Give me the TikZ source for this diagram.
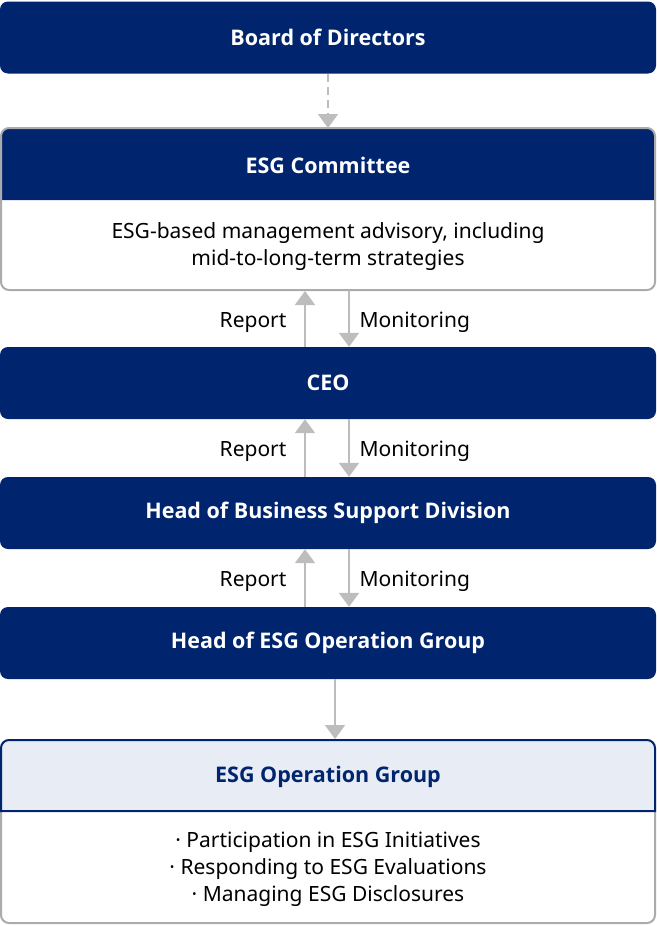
\documentclass[tikz,border=0pt]{standalone}
\usepackage{fontspec}
\setmainfont{Noto Sans}
\newfontfamily\hdfont{Open Sans}
\usetikzlibrary{arrows.meta}
\definecolor{navy}{HTML}{00256E}
\definecolor{arrowgray}{HTML}{BDBDBD}
\definecolor{framegray}{HTML}{ABABAB}
\definecolor{lightblue}{HTML}{E8EDF5}
\begin{document}
\begin{tikzpicture}[x=1pt,y=-1pt,
  hfont/.style={font=\hdfont\bfseries\fontsize{21.5}{24}\selectfont},
  navybox/.style={hfont, fill=navy, rounded corners=8pt, minimum width=656pt, minimum height=72pt, inner sep=0pt, text=white},
  headtext/.style={hfont, text=white},
  bodytext/.style={align=center, font=\fontsize{21}{26.5}\selectfont},
  lbl/.style={font=\fontsize{21}{22}\selectfont},
  conn/.style={draw=arrowgray, line width=2pt, -{Triangle[width=20pt,length=14pt]}}
]
\useasboundingbox (0,0) rectangle (656,926);
% Board
\node[navybox] (board) at (328,37.5) {Board of Directors};
% ESG Committee frame
\fill[navy] (1,200) {[rounded corners=8pt] -- (1,128) -- (655,128)} -- (655,200) -- cycle;
\draw[framegray, line width=2pt, rounded corners=8pt] (1,128) rectangle (655,290);
\node[headtext] (committee) at (328,165) {ESG Committee};
\node[bodytext] (commbody) at (328,246.5) {ESG-based management advisory, including\\mid-to-long-term strategies};
\coordinate (commbottom) at (328,291);
\coordinate (commtop) at (328,128);
% CEO etc.
\node[navybox] (ceo) at (328,383) {CEO};
\node[navybox] (hbsd) at (328,513) {Head of Business Support Division};
\node[navybox] (heog) at (328,643) {Head of ESG Operation Group};
% ESG Operation Group
\draw[framegray, line width=2pt, rounded corners=8pt] (1,780) -- (1,923) -- (655,923) -- (655,780);
\fill[lightblue] (1,811) {[rounded corners=8pt] -- (1,740) -- (655,740)} -- (655,811) -- cycle;
\draw[navy, line width=2pt] (1,811) {[rounded corners=8pt] -- (1,740) -- (655,740)} -- (655,811) -- cycle;
\node[hfont, text=navy] (eog) at (328,777) {ESG Operation Group};
\node[bodytext, font=\fontsize{21}{27}\selectfont] (eogbody) at (328,869.5) {· Participation in ESG Initiatives\\· Responding to ESG Evaluations\\· Managing ESG Disclosures};
\coordinate (eogtop) at (335,739);
% connectors
\draw[conn, dash pattern=on 8pt off 5pt] (board.south) -- (commtop);
\draw[conn] ([xshift=-23pt]ceo.north) -- ([xshift=-23pt]commbottom);
\draw[conn] ([xshift=21pt]commbottom) -- ([xshift=21pt]ceo.north);
\draw[conn] ([xshift=-23pt]hbsd.north) -- ([xshift=-23pt]ceo.south);
\draw[conn] ([xshift=21pt]ceo.south) -- ([xshift=21pt]hbsd.north);
\draw[conn] ([xshift=-23pt]heog.north) -- ([xshift=-23pt]hbsd.south);
\draw[conn] ([xshift=21pt]hbsd.south) -- ([xshift=21pt]heog.north);
\draw[conn] ([xshift=7pt]heog.south) -- (eogtop);
% labels
\node[lbl, anchor=east] (r1) at (290,322.5) {Report};
\node[lbl, anchor=west] (m1) at (356,322.5) {Monitoring};
\node[lbl, anchor=east] (r2) at (290,451.5) {Report};
\node[lbl, anchor=west] (m2) at (356,451.5) {Monitoring};
\node[lbl, anchor=east] (r3) at (290,581.5) {Report};
\node[lbl, anchor=west] (m3) at (356,581.5) {Monitoring};
\end{tikzpicture}
\end{document}
